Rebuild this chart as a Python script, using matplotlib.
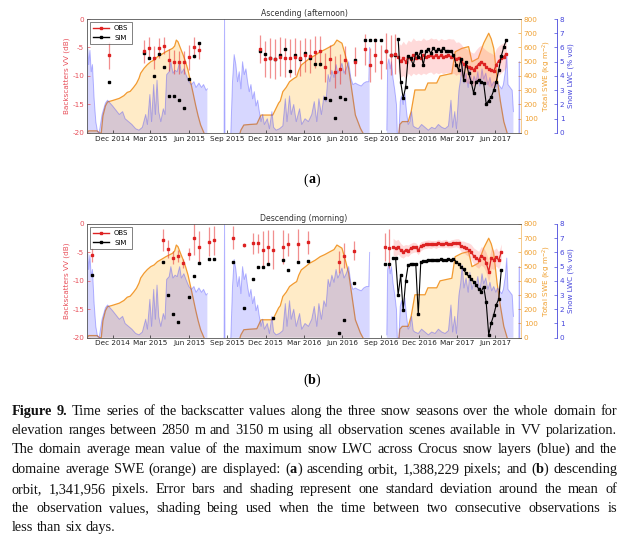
import numpy as np
import pandas as pd
import matplotlib
matplotlib.use('Agg')
import matplotlib.pyplot as plt
import matplotlib.dates as mdates
from matplotlib.lines import Line2D

plt.rcParams['axes.unicode_minus'] = False
plt.rcParams['font.family'] = ['DejaVu Sans']

RED = '#dd2222'
RED_TXT = '#e8505a'
ORANGE = '#f0a030'
BLUE = '#4646dc'

# ---------------- model SWE (kg m-2), same for both panels ----------------
swe1_dates = ['2014-10-01', '2014-10-05', '2014-10-25', '2014-10-31', '2014-11-04', '2014-11-08',
              '2014-11-14', '2014-11-19', '2014-12-01', '2014-12-17', '2014-12-28', '2015-01-05',
              '2015-01-12', '2015-01-20', '2015-01-27', '2015-02-02', '2015-02-06', '2015-02-14',
              '2015-02-22', '2015-03-02', '2015-03-10', '2015-03-18', '2015-03-28', '2015-04-07',
              '2015-04-15', '2015-04-23', '2015-04-28', '2015-05-02', '2015-05-06', '2015-05-12',
              '2015-05-18', '2015-05-24', '2015-05-30', '2015-06-05', '2015-06-11', '2015-06-17',
              '2015-06-23', '2015-06-29', '2015-07-07']
swe1_vals = [0, 15, 15, 0, 0, 120, 190, 218, 228, 243, 262, 285, 292, 320, 348, 384, 420, 454,
             480, 500, 512, 535, 552, 570, 582, 594, 610, 652, 640, 594, 550, 500, 440, 360, 280,
             196, 120, 56, 0]
swe2_dates = ['2015-10-01', '2015-10-03', '2015-10-10', '2015-10-25', '2015-11-10', '2015-11-20',
              '2015-12-18', '2016-01-01', '2016-01-05', '2016-01-11', '2016-01-19', '2016-01-27',
              '2016-02-05', '2016-02-13', '2016-02-18', '2016-02-24', '2016-03-05', '2016-03-15',
              '2016-03-28', '2016-04-09', '2016-04-20', '2016-05-03', '2016-05-12', '2016-05-19',
              '2016-05-31', '2016-06-08', '2016-06-16', '2016-06-24', '2016-07-02', '2016-07-14',
              '2016-07-20']
swe2_vals = [0, 20, 56, 60, 63, 126, 126, 210, 225, 290, 320, 360, 380, 395, 440, 477, 500, 524,
             545, 570, 585, 606, 620, 652, 630, 547, 454, 290, 126, 33, 0]
swe3_dates = ['2016-10-14', '2016-10-16', '2016-10-22', '2016-11-05', '2016-11-12', '2016-11-21',
              '2016-12-15', '2016-12-22', '2017-01-12', '2017-01-20', '2017-02-17', '2017-02-25',
              '2017-03-13', '2017-03-29', '2017-04-06', '2017-04-21', '2017-05-04', '2017-05-16',
              '2017-05-22', '2017-05-28', '2017-06-05', '2017-06-13', '2017-06-21', '2017-06-29']
swe3_vals = [0, 60, 80, 80, 150, 302, 302, 351, 351, 400, 418, 570, 594, 606, 500, 524, 630, 700,
             660, 594, 384, 220, 80, 0]

# ---------------- model max snow LWC (% vol) ----------------
lwc1_dates = ['2014-10-01', '2014-10-03', '2014-10-05', '2014-10-08', '2014-10-11', '2014-10-14',
              '2014-10-18', '2014-10-22', '2014-10-26', '2014-10-30', '2014-11-06', '2014-11-14',
              '2014-11-19', '2014-11-25', '2014-12-01', '2014-12-09', '2014-12-17', '2014-12-25',
              '2014-12-31', '2015-01-08', '2015-01-16', '2015-01-25', '2015-02-02', '2015-02-10',
              '2015-02-18', '2015-02-22', '2015-02-28', '2015-03-04', '2015-03-09', '2015-03-13',
              '2015-03-17', '2015-03-21', '2015-03-26', '2015-04-01', '2015-04-05', '2015-04-09',
              '2015-04-15', '2015-04-19', '2015-04-24', '2015-04-29', '2015-05-04', '2015-05-10',
              '2015-05-14', '2015-05-20', '2015-05-25', '2015-06-01', '2015-06-07', '2015-06-13',
              '2015-06-18', '2015-06-25', '2015-07-01', '2015-07-06', '2015-07-12', '2015-07-15']
lwc1_vals = [5.9, 5.9, 4.8, 5.8, 4.3, 4.8, 2.4, 0.8, 0.1, 0.0, 1.3, 2.1, 2.3, 2.1, 1.9, 1.6, 1.3,
             1.5, 1.0, 0.8, 0.6, 0.3, 0.2, 0.4, 1.3, 0.6, 2.7, 0.8, 3.4, 1.3, 3.7, 1.5, 0.8, 1.7,
             1.3, 4.1, 4.3, 5.0, 4.2, 4.4, 4.3, 5.0, 4.2, 4.5, 4.1, 3.6, 3.4, 3.6, 3.2, 3.5, 3.2,
             3.4, 3.0, 3.1]
lwcs_dates = ['2015-08-24', '2015-08-25', '2015-08-26']
lwcs_vals = [0.0, 8.5, 0.0]
lwc2_dates = ['2015-09-09', '2015-09-13', '2015-09-17', '2015-09-21', '2015-09-25', '2015-09-29',
              '2015-10-03', '2015-10-07', '2015-10-11', '2015-10-15', '2015-10-19', '2015-10-23',
              '2015-10-27', '2015-10-31', '2015-11-04', '2015-11-08', '2015-11-12', '2015-11-16',
              '2015-11-20', '2015-11-24', '2015-11-28', '2015-12-05', '2015-12-10', '2015-12-16',
              '2015-12-20', '2015-12-26', '2016-01-03', '2016-01-11', '2016-01-17', '2016-01-21',
              '2016-01-27', '2016-01-31', '2016-02-06', '2016-02-12', '2016-02-20', '2016-02-25',
              '2016-03-04', '2016-03-12', '2016-03-20', '2016-03-26', '2016-04-01', '2016-04-06',
              '2016-04-12', '2016-04-18', '2016-04-23', '2016-04-28', '2016-05-02', '2016-05-07',
              '2016-05-12', '2016-05-17', '2016-05-21', '2016-05-26', '2016-05-31', '2016-06-05',
              '2016-06-10', '2016-06-16', '2016-06-21', '2016-06-26', '2016-07-02', '2016-07-08',
              '2016-07-16', '2016-07-22', '2016-07-28', '2016-08-03', '2016-08-05']
lwc2_vals = [0.0, 3.6, 5.5, 4.8, 3.6, 4.3, 3.1, 5.0, 4.1, 4.5, 3.6, 2.9, 3.4, 2.4, 2.9, 1.9, 2.3,
             1.5, 0.8, 1.3, 0.6, 1.0, 0.3, 1.5, 0.4, 0.2, 0.3, 0.5, 2.4, 0.8, 2.6, 1.3, 2.0, 0.8,
             1.7, 0.6, 1.0, 0.8, 1.3, 2.2, 0.8, 2.4, 1.3, 2.6, 2.2, 4.1, 3.6, 4.4, 3.9, 4.8, 4.2,
             4.5, 4.9, 4.2, 4.5, 5.0, 3.9, 3.4, 3.5, 3.4, 3.3, 3.5, 3.6, 3.6, 6.0]
lwc3_dates = ['2016-09-15', '2016-09-17', '2016-09-20', '2016-09-23', '2016-09-26', '2016-09-30',
              '2016-10-04', '2016-10-08', '2016-10-10', '2016-10-14', '2016-10-17', '2016-10-20',
              '2016-10-24', '2016-10-28', '2016-11-01', '2016-11-05', '2016-11-09', '2016-11-13',
              '2016-11-17', '2016-11-21', '2016-11-29', '2016-12-07', '2016-12-15', '2016-12-23',
              '2016-12-31', '2017-01-08', '2017-01-16', '2017-01-24', '2017-02-01', '2017-02-09',
              '2017-02-15', '2017-02-19', '2017-02-24', '2017-02-28', '2017-03-06', '2017-03-10',
              '2017-03-14', '2017-03-18', '2017-03-23', '2017-03-28', '2017-04-01', '2017-04-06',
              '2017-04-11', '2017-04-16', '2017-04-20', '2017-04-25', '2017-04-30', '2017-05-04',
              '2017-05-09', '2017-05-14', '2017-05-19', '2017-05-23', '2017-05-28', '2017-06-02',
              '2017-06-06', '2017-06-11', '2017-06-16', '2017-06-20', '2017-06-25', '2017-06-28',
              '2017-07-01', '2017-07-06', '2017-07-11', '2017-07-14']
lwc3_vals = [0.2, 4.8, 5.2, 4.5, 5.0, 3.8, 3.0, 2.0, 0.0, 0.0, 2.2, 2.6, 2.0, 2.8, 1.5, 0.6, 0.8,
             1.5, 0.5, 0.4, 0.3, 0.6, 0.4, 0.2, 0.4, 0.3, 0.6, 0.4, 0.3, 0.5, 2.3, 0.4, 1.5, 0.3,
             3.0, 3.8, 5.1, 3.5, 4.2, 3.2, 4.6, 3.4, 4.0, 3.6, 4.3, 3.3, 4.5, 3.8, 4.2, 3.4, 3.9,
             3.3, 3.6, 3.2, 3.5, 3.3, 3.1, 3.4, 4.4, 5.6, 3.4, 3.2, 3.0, 1.5]
lwce_dates = ['2017-07-27', '2017-07-28', '2017-07-29']
lwce_vals = [0.0, 5.0, 0.0]

# ---------------- ascending orbit (afternoon) ----------------
asc_dates = ['2014-11-22', '2015-02-14', '2015-02-26', '2015-03-10', '2015-03-22', '2015-04-03',
             '2015-04-15', '2015-04-27', '2015-05-09', '2015-05-21', '2015-06-02', '2015-06-14',
             '2015-06-26', '2015-11-17', '2015-11-29', '2015-12-11', '2015-12-23', '2016-01-04',
             '2016-01-16', '2016-01-28', '2016-02-09', '2016-02-21', '2016-03-04', '2016-03-16',
             '2016-03-28', '2016-04-09', '2016-04-21', '2016-05-03', '2016-05-15', '2016-05-27',
             '2016-06-08', '2016-07-02', '2016-07-26', '2016-08-07', '2016-08-19', '2016-08-31',
             '2016-09-12', '2016-09-24', '2016-10-04']
asc_obs = [-6.4, -5.7, -5.1, -6.8, -5.1, -4.7, -7.2, -7.5, -7.6, -7.6, -6.7, -5.0, -5.5,
           -5.3, -7.0, -6.8, -7.0, -6.6, -6.8, -6.8, -6.6, -6.8, -6.3, -6.5, -5.8, -5.6, -8.5,
           -7.1, -9.3, -8.8, -7.2, -7.5, -5.3, -8.1, -6.3, -7.5, -5.6, -6.3, -6.2]
asc_std = [2.3, 2.0, 1.9, 2.0, 1.8, 1.5, 2.0, 2.1, 2.0, 2.0, 2.2, 1.8, 1.5,
           2.5, 3.2, 3.5, 3.5, 3.4, 3.4, 3.3, 3.2, 3.2, 3.0, 3.0, 2.8, 2.6, 2.5,
           2.6, 2.8, 2.6, 2.5, 2.5, 2.7, 3.0, 3.0, 3.0, 3.2, 3.5, 3.5]
asc_sim = [-11.0, -5.9, -6.8, -10.0, -6.2, -8.5, -13.5, -13.5, -14.2, -15.6, -10.5, -6.5, -4.2,
           -5.7, -6.1, -6.8, -7.0, -6.3, -5.3, -9.1, -6.4, -7.0, -6.0, -6.8, -7.9, -7.9, -13.8,
           -14.2, -17.3, -13.7, -14.0, -7.2, -3.7, -3.7, -3.7, -3.7, -5.7, -6.3, -6.3]

asc_dense_start = '2016-10-12'
asc_dense_obs = [-6.6, -7.4, -6.9, -7.5, -6.6, -7.0, -6.4, -6.8, -6.6, -6.8,
                 -6.4, -6.7, -6.5, -6.3, -6.6, -6.4, -6.7, -6.4, -6.6, -6.5,
                 -6.4, -6.6, -6.5, -7.0, -6.8, -7.2, -7.9, -8.2, -8.4, -8.6,
                 -8.9, -8.4, -7.9, -7.5, -7.9, -8.4, -8.8, -9.0, -9.2, -8.0,
                 -7.3, -6.9, -6.6, -6.1]
asc_dense_std = [2.6, 2.8, 3.0, 3.0, 2.9, 3.0, 3.1, 3.0, 2.9, 3.0,
                 3.1, 3.0, 2.9, 3.0, 3.1, 3.0, 2.9, 3.0, 3.0, 2.9,
                 3.0, 3.1, 3.0, 2.9, 2.8, 2.8, 2.9, 3.0, 2.9, 2.8,
                 2.9, 3.0, 3.0, 2.9, 2.8, 2.9, 3.0, 3.0, 2.9, 2.8,
                 2.6, 2.5, 2.4, 2.3]
asc_dense_sim = [-3.5, -11.0, -13.9, -11.9, -6.5, -6.9, -8.1, -6.0, -6.6, -5.7,
                 -8.1, -5.6, -5.3, -6.0, -5.1, -5.7, -5.2, -5.6, -5.1, -5.7,
                 -5.6, -5.7, -6.3, -8.0, -8.9, -7.0, -10.7, -7.5, -9.5, -11.0,
                 -13.0, -11.0, -10.7, -11.0, -11.3, -14.9, -14.3, -13.7, -12.5, -11.0,
                 -8.9, -6.5, -4.9, -3.7]

# ---------------- descending orbit (morning) ----------------
desc_dates = ['2014-10-14', '2015-04-01', '2015-04-13', '2015-04-25', '2015-05-07', '2015-05-19',
              '2015-06-01', '2015-06-12', '2015-06-24', '2015-07-18', '2015-07-30', '2015-09-14',
              '2015-10-11', '2015-11-01', '2015-11-13', '2015-11-25', '2015-12-07', '2015-12-19',
              '2016-01-12', '2016-01-24', '2016-02-17', '2016-03-12', '2016-05-23', '2016-06-04',
              '2016-06-28', '2016-09-11', '2016-09-21']
desc_obs = [-5.5, -2.8, -4.4, -5.9, -5.6, -6.9, -5.3, -2.4, -4.1, -3.1, -2.9, -2.4, -3.7, -3.4,
            -3.4, -4.5, -4.1, -4.5, -4.0, -3.6, -3.6, -3.2, -6.7, -5.6, -4.7, -4.0, -4.3]
desc_std = [1.2, 1.9, 1.5, 1.2, 1.0, 0.8, 1.0, 3.0, 2.9, 2.5, 2.6, 2.0, 0.3, 1.8,
            1.7, 3.3, 3.0, 3.5, 3.0, 2.0, 2.7, 2.0, 2.0, 2.2, 1.7, 2.5, 3.5]
desc_sim = [-8.9, -6.7, -12.5, -15.9, -17.3, np.nan, -12.8, -9.1, -6.9, -6.1, -6.1, -6.7, -14.8,
            -9.6, -7.5, -7.5, -7.1, -16.6, -6.3, -8.1, -6.6, -6.5, -19.1, -16.8, -10.3, -7.0, -7.0]

desc_dense_start = '2016-09-30'
desc_dense_obs = [-4.0, -4.3, -4.0, -4.6, -4.9, -4.6, -4.7, -4.3, -4.1, -4.1,
                  -4.6, -3.9, -3.7, -3.6, -3.5, -3.6, -3.5, -3.6, -3.4, -3.5,
                  -3.5, -3.4, -3.6, -3.5, -3.4, -3.3, -3.4, -3.9, -4.0, -4.3,
                  -4.5, -4.9, -5.6, -6.0, -6.3, -5.6, -5.9, -6.8, -8.4, -6.0,
                  -6.3, -5.8, -6.4, -4.9]
desc_dense_std = [1.5, 1.4, 1.3, 1.2, 1.1, 1.0, 1.0, 0.9, 0.9, 0.8,
                  0.8, 0.8, 0.7, 0.7, 0.7, 0.7, 0.6, 0.7, 0.7, 0.6,
                  0.7, 0.7, 0.6, 0.7, 0.7, 0.7, 0.8, 0.9, 1.0, 1.1,
                  1.2, 1.3, 1.4, 1.5, 1.5, 1.6, 1.7, 1.8, 1.9, 1.8,
                  1.7, 1.6, 1.5, 1.4]
desc_dense_sim = [-6.0, -6.0, -12.5, -9.0, -15.2, -10.0, -7.2, -7.0, -7.0, -7.0,
                  -15.9, -6.7, -6.5, -6.5, -6.3, -6.4, -6.3, -6.3, -6.4, -6.2,
                  -6.4, -6.3, -6.2, -6.4, -6.1, -6.6, -7.0, -7.5, -8.0, -8.7,
                  -9.2, -9.6, -10.2, -10.7, -11.4, -11.9, -11.0, -13.8, -19.5, -17.4,
                  -16.0, -14.2, -13.2, -8.1]

caption = [
    '**Figure 9.** Time series of the backscatter values along the three snow seasons over the whole domain for',
    'elevation ranges between 2850 m and 3150 m using all observation scenes available in VV polarization.',
    'The domain average mean value of the maximum snow LWC across Crocus snow layers (blue) and the',
    'domaine average SWE (orange) are displayed: (**a**) ascending orbit, 1,388,229 pixels; and (**b**) descending',
    'orbit, 1,341,956 pixels. Error bars and shading represent one standard deviation around the mean of',
    'the observation values, shading being used when the time between two consecutive observations is',
    'less than six days.',
]


def join_seasons(date_lists, val_lists):
    d, v = [], []
    for ds, vs in zip(date_lists, val_lists):
        if d:
            d.append(d[-1] + pd.Timedelta(hours=12))
            v.append(np.nan)
        d += list(pd.to_datetime(ds))
        v += list(vs)
    return d, np.array(v, dtype=float)


swe_d, swe_v = join_seasons([swe1_dates, swe2_dates, swe3_dates], [swe1_vals, swe2_vals, swe3_vals])
lwc_d, lwc_v = join_seasons([lwc1_dates, lwcs_dates, lwc2_dates, lwc3_dates, lwce_dates],
                            [lwc1_vals, lwcs_vals, lwc2_vals, lwc3_vals, lwce_vals])

W, H = 624, 540
fig = plt.figure(figsize=(W / 100, H / 100), dpi=100)


def panel(top_px, bot_px, title, dates, obs, std, sim, dstart, dobs, dstd, dsim):
    rect = [87 / W, 1 - bot_px / H, 434 / W, (bot_px - top_px) / H]
    ax = fig.add_axes(rect)
    ax_swe = ax.twinx()
    ax_lwc = ax.twinx()
    ax.set_zorder(3)
    ax.patch.set_visible(False)

    ax_swe.fill_between(swe_d, 0, swe_v, color='#ffa500', alpha=0.22, lw=0)
    ax_swe.plot(swe_d, swe_v, color='#f29a30', lw=0.9)
    ax_swe.set_ylim(0, 800)
    ax_swe.set_yticks(range(0, 801, 100))

    ax_lwc.fill_between(lwc_d, 0, lwc_v, color='#3838ff', alpha=0.2, lw=0)
    ax_lwc.plot(lwc_d, lwc_v, color='#3838ff', alpha=0.35, lw=0.7)
    ax_lwc.set_ylim(0, 8)
    ax_lwc.set_yticks(range(0, 9))
    ax_lwc.spines['right'].set_position(('axes', 1.083))

    d = pd.to_datetime(dates)
    ax.errorbar(d, obs, yerr=std, fmt='s', color=RED, ms=2, mec=RED,
                ecolor=(0.9, 0.2, 0.2, 0.55), elinewidth=0.9, capsize=0)
    ax.plot(d, sim, 's', color='k', ms=2)

    dd = pd.date_range(dstart, periods=len(dobs), freq='6D')
    lo = np.array(dobs) - np.array(dstd)
    hi = np.array(dobs) + np.array(dstd)
    ax.fill_between(dd, lo, hi, color='#ff6e6e', alpha=0.25, lw=0)
    ax.plot(dd, dobs, '-s', color=RED, ms=1.7, lw=0.9)
    ax.plot(dd, dsim, '-s', color='k', ms=1.7, lw=0.8)

    ax.set_ylim(-20, 0)
    ax.set_yticks([-20, -15, -10, -5, 0])
    ax.set_xlim(pd.Timestamp('2014-10-01'), pd.Timestamp('2017-08-01'))
    ax.xaxis.set_major_locator(mdates.MonthLocator(bymonth=[3, 6, 9, 12]))
    ax.xaxis.set_major_formatter(mdates.DateFormatter('%b %Y'))

    ax.tick_params(axis='x', labelsize=5.2, direction='in', length=2, width=0.5, pad=2,
                   colors='#222222')
    ax.tick_params(axis='y', labelsize=5.2, direction='in', length=2, width=0.5, pad=2,
                   colors=RED_TXT)
    ax_swe.tick_params(axis='y', labelsize=5.2, direction='in', length=2, width=0.5, pad=2,
                       colors=ORANGE)
    ax_lwc.tick_params(axis='y', labelsize=5.2, direction='in', length=2, width=0.5, pad=2,
                       colors=BLUE)

    for a in (ax, ax_swe, ax_lwc):
        for s in a.spines.values():
            s.set_linewidth(0.6)
    for s in ('left', 'top', 'bottom'):
        ax.spines[s].set_color('#555555')
        ax_lwc.spines[s].set_visible(False)
        ax_swe.spines[s].set_visible(False)
    ax.spines['right'].set_visible(False)
    ax_swe.spines['right'].set_color('#f3c27a')
    ax_lwc.spines['right'].set_color(BLUE)

    ax.set_ylabel('Backscatters VV (dB)', color=RED_TXT, fontsize=5.2, labelpad=2)
    ax_swe.set_ylabel(r'Total SWE (kg m$^{-2}$)', color=ORANGE, fontsize=5.2, labelpad=2)
    ax_lwc.set_ylabel('Snow LWC (% vol)', color=BLUE, fontsize=5.2, labelpad=2)
    ax.set_title(title, fontsize=5.6, pad=2, color='#333333')

    handles = [Line2D([], [], color=RED, marker='s', ms=2, lw=1),
               Line2D([], [], color='k', marker='s', ms=2, lw=1)]
    leg = ax.legend(handles, ['OBS', 'SIM'], loc='upper left', fontsize=5, frameon=True,
                    fancybox=False, handlelength=2.2, borderpad=0.5, labelspacing=0.5,
                    borderaxespad=0.4)
    leg.get_frame().set_edgecolor('#222222')
    leg.get_frame().set_linewidth(0.5)
    return ax


panel(19, 133, 'Ascending (afternoon)', asc_dates, asc_obs, asc_std, asc_sim,
      asc_dense_start, asc_dense_obs, asc_dense_std, asc_dense_sim)
panel(224, 337.7, 'Descending (morning)', desc_dates, desc_obs, desc_std, desc_sim,
      desc_dense_start, desc_dense_obs, desc_dense_std, desc_dense_sim)

SERIF = ['Liberation Serif', 'DejaVu Serif']


def fx(px):
    return px / W


def fy(py):
    return 1 - py / H


def label_ab(letter, py):
    r = fig.canvas.get_renderer()
    pieces = [('(', 'normal'), (letter, 'bold'), (')', 'normal')]
    arts = [fig.text(0, fy(py), p, fontsize=10, family=SERIF, weight=w, va='center')
            for p, w in pieces]
    widths = [a.get_window_extent(r).width for a in arts]
    x = 312 - sum(widths) / 2
    for a, w in zip(arts, widths):
        a.set_x(fx(x))
        x += w


label_ab('a', 180)
label_ab('b', 380)

# caption, justified word by word
renderer = fig.canvas.get_renderer()


def tokenize(line):
    bold = False
    tokens = []
    for word in line.split(' '):
        parts = word.split('**')
        pieces = []
        for i, p in enumerate(parts):
            if i > 0:
                bold = not bold
            if p:
                pieces.append((p, bold))
        tokens.append(pieces)
    return tokens


def text_width(s, size, bold=False):
    t = fig.text(0, 0, s, fontsize=size, family=SERIF, weight='bold' if bold else 'normal')
    w = t.get_window_extent(renderer).width
    t.remove()
    return w


base = 10.0
sp = text_width('a a', base) - text_width('aa', base)
natural = []
for line in caption:
    toks = tokenize(line)
    tw = sum(text_width(p, base, b) for tok in toks for p, b in tok)
    natural.append(tw + sp * (len(toks) - 1))
size = min(11.0, base * 598 / max(natural))

x0, x1 = 12, 617
ys = [415, 434, 453, 473, 493, 512, 531]
space = text_width('a a', size) - text_width('aa', size)
for k, line in enumerate(caption):
    toks = tokenize(line)
    widths = [[text_width(p, size, b) for p, b in tok] for tok in toks]
    total = sum(sum(w) for w in widths)
    if k < len(caption) - 1:
        gap = (x1 - x0 - total) / (len(toks) - 1)
    else:
        gap = space
    x = x0
    for tok, ws in zip(toks, widths):
        for (p, b), w in zip(tok, ws):
            fig.text(fx(x), fy(ys[k]), p, fontsize=size, family=SERIF,
                     weight='bold' if b else 'normal', va='baseline', color='#111111')
            x += w
        x += gap

fig.savefig('out.png', dpi=100)
